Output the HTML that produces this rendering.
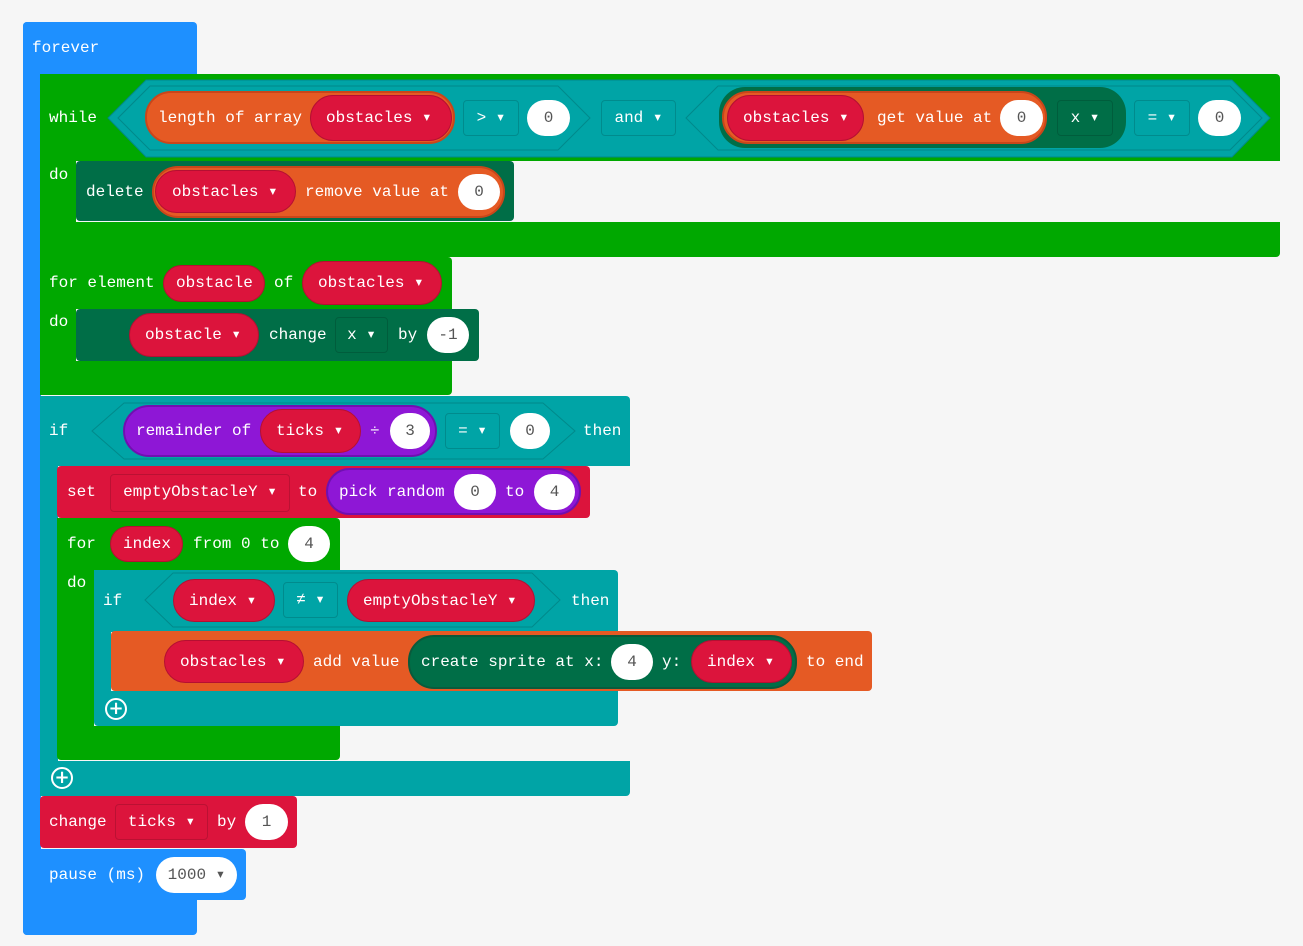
<!DOCTYPE html><html><head><style>
body{margin:0;width:1303px;height:946px;background:#f6f6f6;position:relative;overflow:hidden;font-family:"Liberation Mono","DejaVu Sans Mono",monospace;font-size:16px}
.b{position:absolute}
.t{position:absolute;color:#fff;height:20px;line-height:20px;white-space:nowrap}
.p{position:absolute;border-radius:26px;box-sizing:border-box}
.r{background:#dc143c;border:1px solid #b50f32}
.o{background:#e55a24;border:2px solid #c9461a}
.pu{background:#8e17d6;border:2px solid #7010b0}
.dg{background:#006e47}
.w{position:absolute;background:#fff;border-radius:20px;color:#555;text-align:center;line-height:36px;height:36px}
.dd{position:absolute;border:1px solid rgba(0,0,0,.15);border-radius:4px;box-sizing:border-box;color:#fff;text-align:center;line-height:34px}
.plus{position:absolute;width:18px;height:18px;border:2px solid #fff;border-radius:50%;color:#fff;font:bold 18px/18px "DejaVu Sans",sans-serif;text-align:center}
</style></head><body>
<!-- forever -->
<div class="b" style="left:23px;top:22px;width:174px;height:52px;background:#1e90ff;border-radius:4px 4px 0 0"></div>
<div class="b" style="left:23px;top:22px;width:18px;height:913px;background:#1e90ff;border-radius:4px 0 0 4px"></div>
<div class="b" style="left:23px;top:900px;width:174px;height:35px;background:#1e90ff;border-radius:0 0 4px 4px"></div>
<div class="t" style="left:32px;top:38px">forever</div>

<!-- while -->
<div class="b" style="left:40px;top:74px;width:1240px;height:87px;background:#00a800;border-radius:0 4px 0 0"></div>
<div class="b" style="left:40px;top:160px;width:36px;height:63px;background:#00a800"></div>
<div class="b" style="left:40px;top:222px;width:1240px;height:35px;background:#00a800;border-radius:0 0 4px 0"></div>
<div class="t" style="left:49px;top:108px">while</div>
<div class="t" style="left:49px;top:165px">do</div>
<svg class="b" style="left:0;top:0" width="1303" height="946">
<polygon points="108,118 146,80 1232,80 1270,118 1232,157 146,157" fill="#00a4a6" stroke="#00898b"/>
<polygon points="118,118 150,86 558,86 590,118 558,150 150,150" fill="#00a4a6" stroke="#00898b"/>
<polygon points="686,118 718,86 1230,86 1262,118 1230,150 718,150" fill="#00a4a6" stroke="#00898b"/>
</svg>
<div class="p o" style="left:145px;top:91px;width:310px;height:53px"></div>
<div class="t" style="left:158px;top:108px">length of array</div>
<div class="p r" style="left:310px;top:95px;width:142px;height:46px"></div>
<div class="t" style="left:326px;top:108px">obstacles ▾</div>
<div class="dd" style="left:463px;top:100px;width:56px;height:36px">&gt; ▾</div>
<div class="w" style="left:527px;top:100px;width:43px">0</div>
<div class="dd" style="left:601px;top:100px;width:75px;height:36px">and ▾</div>
<div class="p dg" style="left:719px;top:87px;width:407px;height:61px"></div>
<div class="p o" style="left:722px;top:91px;width:325px;height:53px"></div>
<div class="p r" style="left:727px;top:95px;width:137px;height:46px"></div>
<div class="t" style="left:743px;top:108px">obstacles ▾</div>
<div class="t" style="left:877px;top:108px">get value at</div>
<div class="w" style="left:1000px;top:100px;width:43px">0</div>
<div class="dd" style="left:1057px;top:100px;width:56px;height:36px">x ▾</div>
<div class="dd" style="left:1134px;top:100px;width:56px;height:36px">= ▾</div>
<div class="w" style="left:1198px;top:100px;width:43px">0</div>

<!-- delete -->
<div class="b dg" style="left:76px;top:161px;width:438px;height:60px;border-radius:4px"></div>
<div class="t" style="left:86px;top:182px">delete</div>
<div class="p o" style="left:152px;top:166px;width:353px;height:52px"></div>
<div class="p r" style="left:155px;top:170px;width:141px;height:43px"></div>
<div class="t" style="left:172px;top:182px">obstacles ▾</div>
<div class="t" style="left:305px;top:182px">remove value at</div>
<div class="w" style="left:458px;top:174px;width:42px">0</div>

<!-- for element -->
<div class="b" style="left:40px;top:257px;width:412px;height:52px;background:#00a800;border-radius:0 4px 0 0"></div>
<div class="b" style="left:40px;top:308px;width:36px;height:55px;background:#00a800"></div>
<div class="b" style="left:40px;top:361px;width:412px;height:34px;background:#00a800;border-radius:0 0 4px 0"></div>
<div class="t" style="left:49px;top:273px">for element</div>
<div class="t" style="left:49px;top:312px">do</div>
<div class="p r" style="left:163px;top:265px;width:102px;height:37px"></div>
<div class="t" style="left:176px;top:273px">obstacle</div>
<div class="t" style="left:274px;top:273px">of</div>
<div class="p r" style="left:302px;top:261px;width:140px;height:44px"></div>
<div class="t" style="left:318px;top:273px">obstacles ▾</div>
<div class="b dg" style="left:76px;top:309px;width:403px;height:52px;border-radius:4px"></div>
<div class="p r" style="left:129px;top:313px;width:130px;height:44px"></div>
<div class="t" style="left:145px;top:325px">obstacle ▾</div>
<div class="t" style="left:269px;top:325px">change</div>
<div class="dd" style="left:335px;top:317px;width:53px;height:36px">x ▾</div>
<div class="t" style="left:398px;top:325px">by</div>
<div class="w" style="left:427px;top:317px;width:42px">-1</div>

<!-- if -->
<div class="b" style="left:40px;top:396px;width:590px;height:70px;background:#00a4a6;border-radius:0 4px 0 0"></div>
<div class="b" style="left:40px;top:465px;width:18px;height:300px;background:#00a4a6"></div>
<div class="b" style="left:40px;top:761px;width:590px;height:35px;background:#00a4a6;border-radius:0 0 4px 0"></div>
<svg class="b" style="left:0;top:0" width="1303" height="946"><polygon points="92,431 124,403 543,403 575,431 543,459 124,459" fill="#00a4a6" stroke="#00898b"/></svg>
<div class="t" style="left:49px;top:421px">if</div>
<div class="p pu" style="left:123px;top:405px;width:314px;height:52px"></div>
<div class="t" style="left:136px;top:421px">remainder of</div>
<div class="p r" style="left:260px;top:409px;width:101px;height:44px"></div>
<div class="t" style="left:276px;top:421px">ticks ▾</div>
<div class="t" style="left:370px;top:421px">÷</div>
<div class="w" style="left:390px;top:413px;width:40px">3</div>
<div class="dd" style="left:445px;top:413px;width:55px;height:36px">= ▾</div>
<div class="w" style="left:510px;top:413px;width:40px">0</div>
<div class="t" style="left:583px;top:421px">then</div>
<div class="plus" style="left:51px;top:767px">+</div>

<!-- set -->
<div class="b" style="left:57px;top:466px;width:533px;height:52px;background:#dc143c;border-radius:4px"></div>
<div class="t" style="left:67px;top:482px">set</div>
<div class="dd" style="left:110px;top:474px;width:180px;height:38px">emptyObstacleY ▾</div>
<div class="t" style="left:298px;top:482px">to</div>
<div class="p pu" style="left:326px;top:468px;width:255px;height:47px"></div>
<div class="t" style="left:339px;top:482px">pick random</div>
<div class="w" style="left:454px;top:474px;width:42px">0</div>
<div class="t" style="left:505px;top:482px">to</div>
<div class="w" style="left:534px;top:474px;width:41px">4</div>

<!-- for -->
<div class="b" style="left:57px;top:518px;width:283px;height:52px;background:#00a800;border-radius:0 4px 0 0"></div>
<div class="b" style="left:57px;top:569px;width:37px;height:160px;background:#00a800"></div>
<div class="b" style="left:57px;top:726px;width:283px;height:34px;background:#00a800;border-radius:0 0 4px 4px"></div>
<div class="t" style="left:67px;top:534px">for</div>
<div class="t" style="left:67px;top:573px">do</div>
<div class="p r" style="left:110px;top:526px;width:73px;height:36px"></div>
<div class="t" style="left:123px;top:534px">index</div>
<div class="t" style="left:193px;top:534px">from 0 to</div>
<div class="w" style="left:288px;top:526px;width:42px">4</div>

<!-- inner if -->
<div class="b" style="left:94px;top:570px;width:524px;height:62px;background:#00a4a6;border-radius:0 4px 0 0"></div>
<div class="b" style="left:94px;top:630px;width:17px;height:64px;background:#00a4a6"></div>
<div class="b" style="left:94px;top:691px;width:524px;height:35px;background:#00a4a6;border-radius:0 0 4px 4px"></div>
<svg class="b" style="left:0;top:0" width="1303" height="946"><polygon points="145,600 173,573 532,573 560,600 532,627 173,627" fill="#00a4a6" stroke="#00898b"/></svg>
<div class="t" style="left:103px;top:591px">if</div>
<div class="p r" style="left:173px;top:579px;width:102px;height:43px"></div>
<div class="t" style="left:189px;top:591px">index ▾</div>
<div class="dd" style="left:283px;top:582px;width:55px;height:36px">≠ ▾</div>
<div class="p r" style="left:347px;top:579px;width:188px;height:43px"></div>
<div class="t" style="left:363px;top:591px">emptyObstacleY ▾</div>
<div class="t" style="left:571px;top:591px">then</div>
<div class="plus" style="left:105px;top:698px">+</div>

<!-- add value -->
<div class="b" style="left:111px;top:631px;width:761px;height:60px;background:#e55a24;border-radius:4px"></div>
<div class="p r" style="left:164px;top:640px;width:140px;height:43px"></div>
<div class="t" style="left:180px;top:652px">obstacles ▾</div>
<div class="t" style="left:313px;top:652px">add value</div>
<div class="p dg" style="left:408px;top:635px;width:389px;height:54px;border:2px solid #0a5a3c"></div>
<div class="t" style="left:421px;top:652px">create sprite at x:</div>
<div class="w" style="left:611px;top:644px;width:42px">4</div>
<div class="t" style="left:662px;top:652px">y:</div>
<div class="p r" style="left:691px;top:640px;width:101px;height:43px"></div>
<div class="t" style="left:707px;top:652px">index ▾</div>
<div class="t" style="left:806px;top:652px">to end</div>

<!-- change ticks -->
<div class="b" style="left:40px;top:796px;width:257px;height:52px;background:#dc143c;border-radius:4px"></div>
<div class="t" style="left:49px;top:812px">change</div>
<div class="dd" style="left:115px;top:804px;width:93px;height:36px">ticks ▾</div>
<div class="t" style="left:217px;top:812px">by</div>
<div class="w" style="left:245px;top:804px;width:43px">1</div>

<!-- pause -->
<div class="b" style="left:40px;top:849px;width:206px;height:51px;background:#1e90ff;border-radius:0 4px 4px 0"></div>
<div class="t" style="left:49px;top:865px">pause (ms)</div>
<div class="w" style="left:156px;top:857px;width:81px">1000 ▾</div>
</body></html>
